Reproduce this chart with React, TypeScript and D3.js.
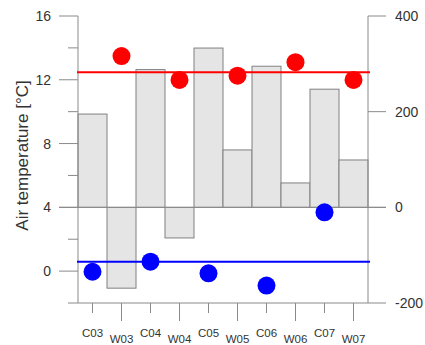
import React from "react";
import * as d3 from "d3";

// Sites: cold (C) and warm (W) plots, alternating
const categories = ["C03", "W03", "C04", "W04", "C05", "W05", "C06", "W06", "C07", "W07"];
// Bar values on the right-hand axis
const barValues = [195, -169, 288, -64, 333, 120, 295, 51, 247, 99];
// Air temperature at the warm plots (red) and the cold plots (blue)
const warmSites = ["W03", "W04", "W05", "W06", "W07"];
const warmTemps = [13.49, 11.99, 12.26, 13.1, 11.99];
const coldSites = ["C03", "C04", "C05", "C06", "C07"];
const coldTemps = [-0.04, 0.59, -0.14, -0.91, 3.69];
// Reference levels
const warmLevel = 12.47;
const coldLevel = 0.59;
// Axis ticks
const leftMajor = [16, 12, 8, 4, 0];
const leftMinor = [14, 10, 6, 2, -2];
const rightTicks = [400, 200, 0, -200];

const W = 425;
const H = 345;
const FONT = "'Liberation Sans', Arial, Helvetica, sans-serif";
const AXIS = "#8a8a8a";
const TEXT = "#333333";

export default function App() {
  const left = 78;
  const right = 368;
  const top = 16;
  const bottom = 303;

  const x = d3.scaleBand<string>().domain(categories).range([left, right]).padding(0);
  const yL = d3.scaleLinear().domain([-2, 16]).range([bottom, top]);
  const yR = d3.scaleLinear().domain([-200, 400]).range([bottom, top]);
  const bw = x.bandwidth();
  const cx = (c: string) => (x(c) as number) + bw / 2;

  return (
    <svg
      width={W}
      height={H}
      style={{ position: "fixed", left: 0, top: 0, background: "#fff" }}
      fontFamily={FONT}
    >
      {/* bars */}
      {categories.map((c, i) => {
        const v = barValues[i];
        const y0 = yR(0);
        const y1 = yR(v);
        return (
          <rect
            key={c}
            x={x(c)}
            y={Math.min(y0, y1)}
            width={bw}
            height={Math.abs(y1 - y0)}
            fill="#e5e5e5"
            stroke="#808080"
            strokeWidth={1}
          />
        );
      })}

      {/* zero baseline */}
      <line x1={59} x2={386} y1={yR(0)} y2={yR(0)} stroke={AXIS} strokeWidth={1} />

      {/* left axis */}
      <line x1={left} x2={left} y1={top} y2={bottom} stroke={AXIS} />
      {leftMajor.map((t) => (
        <g key={"lm" + t}>
          <line x1={59} x2={left} y1={yL(t)} y2={yL(t)} stroke={AXIS} />
          <text
            x={51}
            y={yL(t)}
            dy="0.36em"
            textAnchor="end"
            fontSize={14}
            fill={TEXT}
          >
            {t}
          </text>
        </g>
      ))}
      {leftMinor.map((t) => (
        <line key={"ln" + t} x1={68} x2={left} y1={yL(t)} y2={yL(t)} stroke={AXIS} />
      ))}

      {/* right axis */}
      <line x1={right} x2={right} y1={top} y2={bottom} stroke={AXIS} />
      {rightTicks.map((t) => (
        <g key={"r" + t}>
          <line x1={right} x2={386} y1={yR(t)} y2={yR(t)} stroke={AXIS} />
          <text x={395} y={yR(t)} dy="0.36em" textAnchor="start" fontSize={14} fill={TEXT}>
            {t}
          </text>
        </g>
      ))}

      {/* bottom axis */}
      <line x1={left} x2={right} y1={bottom} y2={bottom} stroke={AXIS} />
      {categories.map((c, i) => (
        <g key={"x" + c}>
          <line
            x1={cx(c)}
            x2={cx(c)}
            y1={bottom}
            y2={i % 2 === 0 ? bottom + 10 : bottom + 18}
            stroke={AXIS}
          />
          <text
            x={cx(c)}
            y={i % 2 === 0 ? 336.5 : 343}
            textAnchor="middle"
            fontSize={11.5}
            fill={TEXT}
          >
            {c}
          </text>
        </g>
      ))}

      {/* y-axis title */}
      <text
        transform={`translate(28,${(top + bottom) / 2 - 4}) rotate(-90)`}
        textAnchor="middle"
        fontSize={17}
        fill={TEXT}
      >
        Air temperature [°C]
      </text>

      {/* reference levels */}
      <line x1={77} x2={370} y1={yL(warmLevel)} y2={yL(warmLevel)} stroke="#ff0000" strokeWidth={2} />
      <line x1={77} x2={370} y1={yL(coldLevel)} y2={yL(coldLevel)} stroke="#0000ff" strokeWidth={2} />

      {/* temperatures */}
      {warmSites.map((s, i) => (
        <circle key={s} cx={cx(s)} cy={yL(warmTemps[i])} r={9} fill="#ff0000" />
      ))}
      {coldSites.map((s, i) => (
        <circle key={s} cx={cx(s)} cy={yL(coldTemps[i])} r={9} fill="#0000ff" />
      ))}
    </svg>
  );
}
